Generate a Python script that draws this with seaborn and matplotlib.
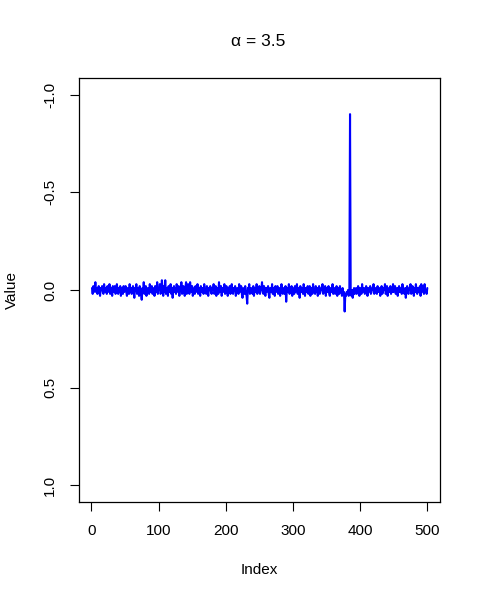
import numpy as np
import pandas as pd
import matplotlib
matplotlib.use("Agg")
import matplotlib.pyplot as plt
import seaborn as sns

# Series values (index 1..500)
values = [
    -0.01, 0.02, -0.02, 0.01, 0.00, -0.04, 0.01, -0.01, 0.02, 0.00, -0.02, 0.01, 0.03, -0.01, 0.00, -0.02, 0.01, 0.02, -0.03, 0.00, 0.01, -0.01, 0.02, -0.02, 0.00,
    0.01, -0.03, 0.02, 0.00, -0.01, 0.03, -0.02, 0.01, 0.00, -0.02, 0.02, 0.01, -0.03, 0.00, 0.02, -0.01, 0.01, -0.02, 0.03, 0.00, -0.01, 0.02, -0.02, 0.01, 0.00,
    -0.02, 0.01, 0.03, -0.01, 0.00, 0.02, -0.03, 0.01, -0.01, 0.02, 0.00, -0.02, 0.01, 0.04, -0.01, 0.00, -0.03, 0.02, 0.01, -0.01, 0.03, -0.02, 0.00, 0.02, 0.05,
    -0.01, 0.01, -0.04, 0.02, 0.00, -0.02, 0.03, 0.01, -0.01, 0.00, 0.02, -0.03, 0.01, 0.00, -0.02, 0.02, 0.01, -0.01, 0.03, -0.02, 0.00, 0.01, -0.04, 0.02, -0.01,
    0.00, -0.03, 0.02, 0.01, -0.05, 0.00, 0.03, -0.02, 0.01, -0.05, 0.02, 0.00, -0.01, 0.03, -0.02, 0.01, 0.00, -0.03, 0.02, -0.01, 0.04, 0.00, -0.02, 0.01, -0.01,
    0.02, -0.03, 0.00, 0.01, -0.02, 0.03, -0.01, 0.00, -0.04, 0.02, 0.01, -0.02, 0.00, 0.03, -0.01, -0.04, 0.02, 0.00, -0.03, 0.01, 0.02, -0.04, 0.00, 0.01, -0.02,
    0.03, 0.00, -0.01, 0.02, -0.02, 0.01, 0.00, -0.03, 0.02, 0.01, -0.01, 0.03, -0.02, 0.00, 0.01, -0.01, 0.02, -0.03, 0.00, 0.01, 0.02, -0.02, 0.00, 0.03, -0.01,
    0.00, -0.02, 0.01, 0.02, -0.01, 0.00, -0.03, 0.02, 0.01, -0.02, 0.03, 0.00, -0.01, 0.02, -0.04, 0.01, 0.00, -0.02, 0.03, -0.01, 0.01, 0.00, -0.03, 0.02, 0.01,
    -0.02, 0.00, 0.03, -0.01, 0.01, -0.02, 0.02, 0.00, -0.03, 0.01, 0.02, -0.01, 0.00, -0.02, 0.03, 0.01, -0.01, 0.00, 0.02, -0.03, 0.01, 0.00, -0.02, 0.02, 0.04,
    -0.01, 0.00, 0.02, -0.02, 0.01, 0.03, 0.07, -0.01, 0.00, -0.03, 0.02, 0.01, -0.01, 0.00, 0.02, -0.02, 0.03, 0.00, -0.01, 0.01, -0.03, 0.02, 0.00, 0.01, -0.02,
    0.02, -0.01, 0.00, -0.04, 0.01, 0.02, -0.02, 0.00, 0.03, -0.01, 0.01, 0.00, -0.02, 0.02, 0.04, -0.01, 0.00, 0.01, -0.03, 0.02, 0.00, -0.01, 0.03, -0.02, 0.01,
    0.00, -0.02, 0.02, 0.01, -0.01, 0.03, 0.00, -0.03, 0.01, 0.02, -0.01, 0.00, 0.02, -0.02, 0.06, 0.00, -0.01, 0.01, -0.03, 0.02, 0.00, 0.01, -0.02, 0.03, -0.01,
    0.00, 0.02, -0.02, 0.01, 0.00, -0.03, 0.02, 0.01, -0.01, 0.04, -0.02, 0.00, 0.01, -0.01, 0.02, -0.03, 0.00, 0.03, -0.01, 0.01, 0.00, -0.02, 0.02, 0.01, -0.02,
    0.03, 0.00, -0.01, 0.02, -0.03, 0.01, 0.00, 0.02, -0.02, 0.01, -0.01, 0.03, 0.00, -0.02, 0.02, 0.01, -0.01, 0.00, -0.03, 0.02, 0.01, 0.00, -0.02, 0.03, -0.01,
    0.01, 0.00, -0.02, 0.02, 0.03, -0.01, 0.00, 0.01, -0.03, 0.02, 0.00, -0.01, 0.02, 0.01, -0.02, 0.03, 0.00, -0.01, 0.02, -0.02, 0.01, 0.00, 0.03, -0.01, 0.02,
    0.01, 0.11, 0.02, 0.03, 0.01, 0.02, 0.00, 0.03, 0.01, -0.90, 0.02, 0.03, 0.00, 0.04, 0.01, -0.01, 0.02, 0.00, -0.01, 0.02, 0.01, -0.02, 0.00, 0.03, -0.01,
    0.00, 0.02, -0.03, 0.01, 0.00, -0.01, 0.02, 0.01, -0.02, 0.00, 0.03, -0.01, 0.01, 0.00, -0.02, 0.02, 0.01, -0.01, 0.00, -0.03, 0.02, 0.01, -0.01, 0.00, 0.02,
    -0.02, 0.01, 0.00, -0.01, 0.03, 0.00, -0.02, 0.02, 0.01, -0.01, 0.00, -0.03, 0.02, 0.01, -0.02, 0.03, 0.00, -0.01, 0.01, -0.02, 0.02, 0.00, 0.01, -0.03, 0.01,
    0.00, -0.02, 0.02, 0.01, -0.01, 0.03, 0.00, -0.02, 0.01, 0.00, -0.01, 0.02, -0.03, 0.01, 0.00, 0.02, -0.01, 0.04, 0.00, -0.02, 0.01, 0.02, -0.01, 0.00, -0.03,
    0.02, 0.01, -0.02, 0.00, 0.03, -0.01, 0.01, -0.03, 0.00, 0.02, -0.01, 0.01, 0.00, -0.02, 0.03, -0.03, 0.01, 0.00, -0.02, 0.02, -0.03, 0.01, 0.00, 0.02, -0.01,
]
index = list(range(1, len(values) + 1))

x_ticks = [0, 100, 200, 300, 400, 500]
y_ticks = [-1.0, -0.5, 0.0, 0.5, 1.0]
y_tick_labels = ["-1.0", "-0.5", "0.0", "0.5", "1.0"]

df = pd.DataFrame({"Index": index, "Value": values})

sns.set_style("white", {"text.color": "black", "axes.labelcolor": "black",
                         "xtick.color": "black", "ytick.color": "black",
                         "axes.edgecolor": "black"})
plt.rcParams["font.family"] = ["Liberation Sans", "DejaVu Sans"]

fig = plt.figure(figsize=(4.8, 6), dpi=100)
ax = fig.add_axes([78.7 / 480, 98 / 600, 361.3 / 480, 424 / 600])

sns.lineplot(data=df, x="Index", y="Value", color="#0000FF", linewidth=1.5, ax=ax)

ax.set_xlim(-18.8, 518.9)
ax.set_ylim(1.085, -1.085)  # inverted axis
ax.set_xticks(x_ticks)
ax.set_xticklabels([str(t) for t in x_ticks])
ax.set_yticks(y_ticks)
ax.set_yticklabels(y_tick_labels, rotation=90, va="center")

for s in ax.spines.values():
    s.set_visible(True)
    s.set_color("black")
    s.set_linewidth(0.9)

ax.tick_params(axis="both", direction="out", length=6.5, width=0.8,
               color="black", labelsize=11, labelcolor="black", pad=9,
               bottom=True, left=True)

ax.set_xlabel("Index", fontsize=11, color="black")
ax.xaxis.set_label_coords(0.5, -0.160)
ax.xaxis.label.set_va("center")
ax.set_ylabel("Value", fontsize=11, color="black")
ax.yaxis.set_label_coords(-0.185, 0.5)
ax.yaxis.label.set_va("center")

ax.text(0.4976, 1.085, "α = 3.5", transform=ax.transAxes, ha="center",
        va="center", fontsize=12.5, color="black")

fig.savefig("out.png", dpi=100, facecolor="white")
